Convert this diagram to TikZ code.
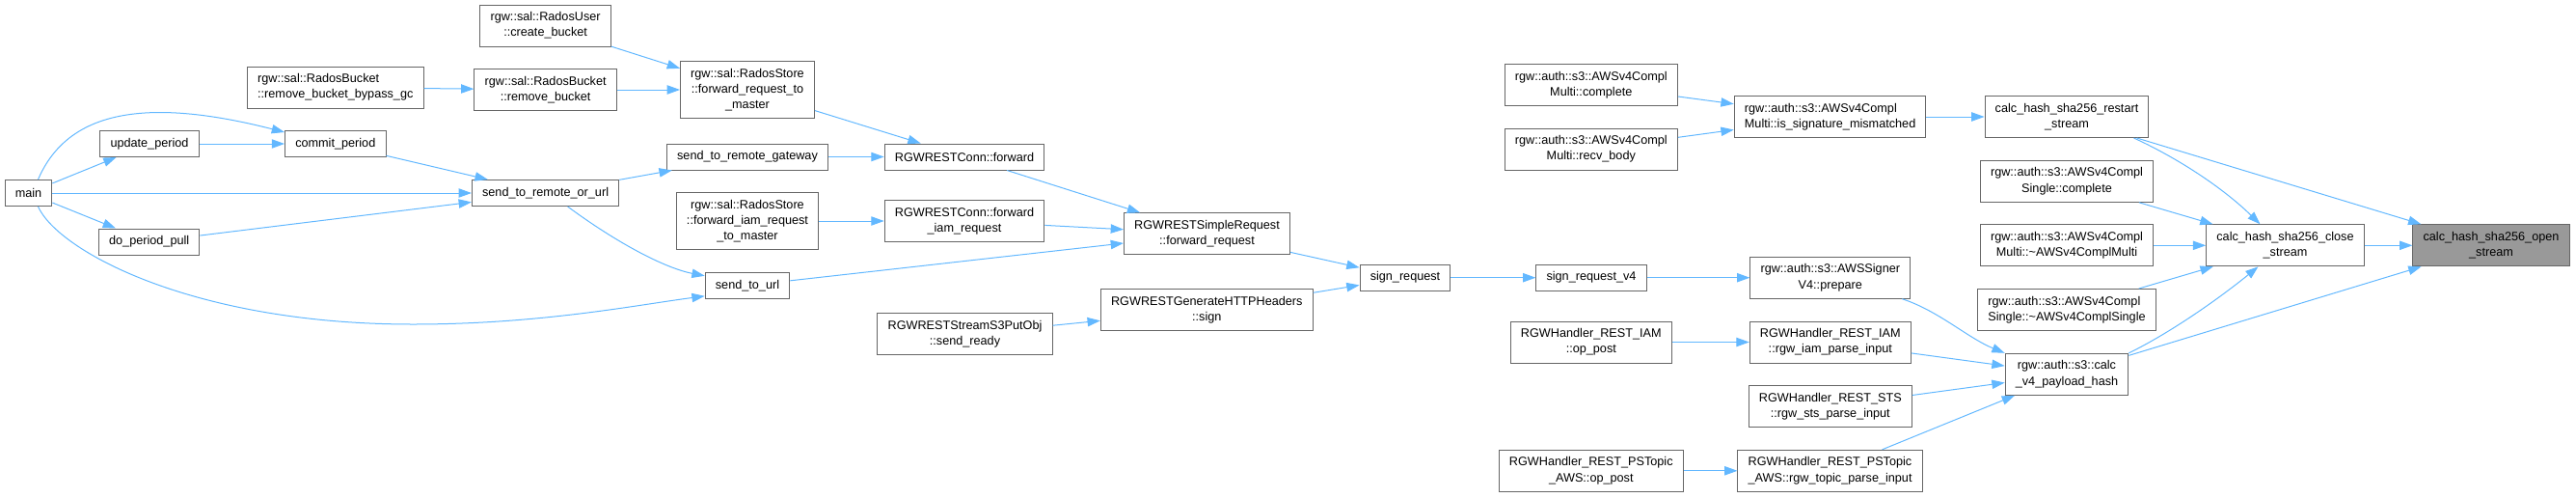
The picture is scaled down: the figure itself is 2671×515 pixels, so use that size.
\documentclass[tikz,border=0pt]{standalone}
\usepackage{fontspec}
\setmainfont{Liberation Sans}
\usepackage{tikz}
\usetikzlibrary{arrows.meta}

\definecolor{edgeblue}{HTML}{63B8FF}
\definecolor{boxline}{HTML}{666666}
\definecolor{hilite}{HTML}{999999}

\begin{document}
\begin{tikzpicture}[x=0.75pt, y=-0.75pt,
	fn/.style={draw=boxline, fill=white, line width=0.75pt, font=\fontsize{9.5}{12.2}\selectfont,
		align=center, inner xsep=8pt, inner ysep=0pt, minimum height=20.25pt},
	twol/.style={minimum height=32.25pt},
	threel/.style={minimum height=44.25pt},
	call/.style={draw=edgeblue, line width=0.75pt, -{Triangle[length=10pt, width=7pt]}}]
	\useasboundingbox (0,0) rectangle (2671,515);

	% column 1--3
	\node[fn] (main) at (29.5,200) {main};
	\node[fn] (updperiod) at (155,149) {update\_period};
	\node[fn] (pullperiod) at (154.7,250.5) {do\_period\_pull};
	\node[fn] (commitperiod) at (347.8,149) {commit\_period};
	\node[fn, twol, align=left] (rmbypass) at (347.8,90.5) {rgw::sal::RadosBucket\\::remove\_bucket\_bypass\_gc};
	\node[fn, twol] (createbucket) at (565.6,26.5) {rgw::sal::RadosUser\\::create\_bucket};
	\node[fn, twol] (rmbucket) at (565.6,93) {rgw::sal::RadosBucket\\::remove\_bucket};
	\node[fn] (remoteorurl) at (565.6,200) {send\_to\_remote\_or\_url};

	% column 4--6
	\node[fn, threel] (fwdmaster) at (775,93) {rgw::sal::RadosStore\\::forward\_request\_to\\\_master};
	\node[fn] (remotegw) at (775,162.5) {send\_to\_remote\_gateway};
	\node[fn, threel] (fwdiammaster) at (775,229) {rgw::sal::RadosStore\\::forward\_iam\_request\\\_to\_master};
	\node[fn] (sendurl) at (775,295.8) {send\_to\_url};
	\node[fn] (connfwd) at (1000,162.5) {RGWRESTConn::forward};
	\node[fn, twol] (conniam) at (1000,229) {RGWRESTConn::forward\\\_iam\_request};
	\node[fn, twol] (sendready) at (1000.5,346.3) {RGWRESTStreamS3PutObj\\::send\_ready};
	\node[fn, twol] (simplefwd) at (1251.5,242.3) {RGWRESTSimpleRequest\\::forward\_request};
	\node[fn, twol] (hdrsign) at (1251.3,321.3) {RGWRESTGenerateHTTPHeaders\\::sign};

	% column 7--9
	\node[fn] (signreq) at (1457,287.7) {sign\_request};
	\node[fn] (signv4) at (1650,287.7) {sign\_request\_v4};
	\node[fn, twol] (multicomplete) at (1649.8,88) {rgw::auth::s3::AWSv4Compl\\Multi::complete};
	\node[fn, twol] (multirecv) at (1649.8,154.5) {rgw::auth::s3::AWSv4Compl\\Multi::recv\_body};
	\node[fn, twol] (iampost) at (1649.8,354.5) {RGWHandler\_REST\_IAM\\::op\_post};
	\node[fn, twol] (topicpost) at (1649.8,487.8) {RGWHandler\_REST\_PSTopic\\\_AWS::op\_post};
	\node[fn, twol, align=left] (sigmismatch) at (1897.6,121) {rgw::auth::s3::AWSv4Compl\\Multi::is\_signature\_mismatched};
	\node[fn, twol] (signerprep) at (1897.8,287.7) {rgw::auth::s3::AWSSigner\\V4::prepare};
	\node[fn, twol] (iamparse) at (1897.8,354.5) {RGWHandler\_REST\_IAM\\::rgw\_iam\_parse\_input};
	\node[fn, twol] (stsparse) at (1897.8,421) {RGWHandler\_REST\_STS\\::rgw\_sts\_parse\_input};
	\node[fn, twol, align=left] (topicparse) at (1897.6,487.8) {RGWHandler\_REST\_PSTopic\\\_AWS::rgw\_topic\_parse\_input};

	% column 10--12
	\node[fn, twol] (restartstream) at (2143,121) {calc\_hash\_sha256\_restart\\\_stream};
	\node[fn, twol] (singlecomplete) at (2143,187.8) {rgw::auth::s3::AWSv4Compl\\Single::complete};
	\node[fn, twol] (multidtor) at (2143,254.3) {rgw::auth::s3::AWSv4Compl\\Multi::\textasciitilde AWSv4ComplMulti};
	\node[fn, twol, align=left] (singledtor) at (2143,321) {rgw::auth::s3::AWSv4Compl\\Single::\textasciitilde AWSv4ComplSingle};
	\node[fn, twol] (payloadhash) at (2143,387.8) {rgw::auth::s3::calc\\\_v4\_payload\_hash};
	\node[fn, twol] (closestream) at (2369.5,254.3) {calc\_hash\_sha256\_close\\\_stream};
	\node[fn, twol, fill=hilite] (openstream) at (2583,254.3) {calc\_hash\_sha256\_open\\\_stream};

	% calls
	\draw[call] ([shift={(10,0)}]main.north) .. controls (70,115) and (150,100) .. ([shift={(0,2)}]commitperiod.north west);
	\draw[call] (main) -- (updperiod);
	\draw[call] (main) -- (remoteorurl);
	\draw[call] (main) -- (pullperiod);
	\draw[call] ([shift={(10,0)}]main.south) .. controls (60,260) and (200,336) .. (428,336)
		.. controls (560,336) and (660,316) .. ([shift={(0,-3)}]sendurl.south west);
	\draw[call] (updperiod) -- (commitperiod);
	\draw[call] (commitperiod) -- (remoteorurl);
	\draw[call] (pullperiod) -- (remoteorurl);
	\draw[call] (rmbypass) -- (rmbucket);
	\draw[call] (createbucket) -- (fwdmaster);
	\draw[call] (rmbucket) -- (fwdmaster);
	\draw[call] (remoteorurl) -- (remotegw);
	\draw[call] ([shift={(23,0)}]remoteorurl.south) .. controls (640,252) and (690,278) .. ([shift={(0,4)}]sendurl.north west);
	\draw[call] (fwdmaster) -- (connfwd);
	\draw[call] (remotegw) -- (connfwd);
	\draw[call] (fwdiammaster) -- (conniam);
	\draw[call] (connfwd) -- (simplefwd);
	\draw[call] (conniam) -- (simplefwd);
	\draw[call] (sendurl) -- (simplefwd);
	\draw[call] (sendready) -- (hdrsign);
	\draw[call] (simplefwd) -- (signreq);
	\draw[call] (hdrsign) -- (signreq);
	\draw[call] (signreq) -- (signv4);
	\draw[call] (signv4) -- (signerprep);
	\draw[call] (multicomplete) -- (sigmismatch);
	\draw[call] (multirecv) -- (sigmismatch);
	\draw[call] (iampost) -- (iamparse);
	\draw[call] (topicpost) -- (topicparse);
	\draw[call] (sigmismatch) -- (restartstream);
	\draw[call] ([shift={(-9,0)}]signerprep.south east) .. controls (2010,322) and (2040,350) .. (payloadhash.north west);
	\draw[call] (iamparse) -- (payloadhash);
	\draw[call] (stsparse) -- (payloadhash);
	\draw[call] (topicparse) -- (payloadhash);
	\draw[call] (restartstream) -- (openstream);
	\draw[call] ([shift={(-16,0)}]restartstream.south east) .. controls (2250,160) and (2300,190) .. ([shift={(-26,0)}]closestream.north);
	\draw[call] (singlecomplete) -- (closestream);
	\draw[call] (multidtor) -- (closestream);
	\draw[call] (singledtor) -- (closestream);
	\draw[call] (payloadhash.north east) .. controls (2250,345) and (2300,310) .. ([shift={(-28,0)}]closestream.south);
	\draw[call] (payloadhash) -- (openstream);
	\draw[call] (closestream) -- (openstream);
\end{tikzpicture}
\end{document}
